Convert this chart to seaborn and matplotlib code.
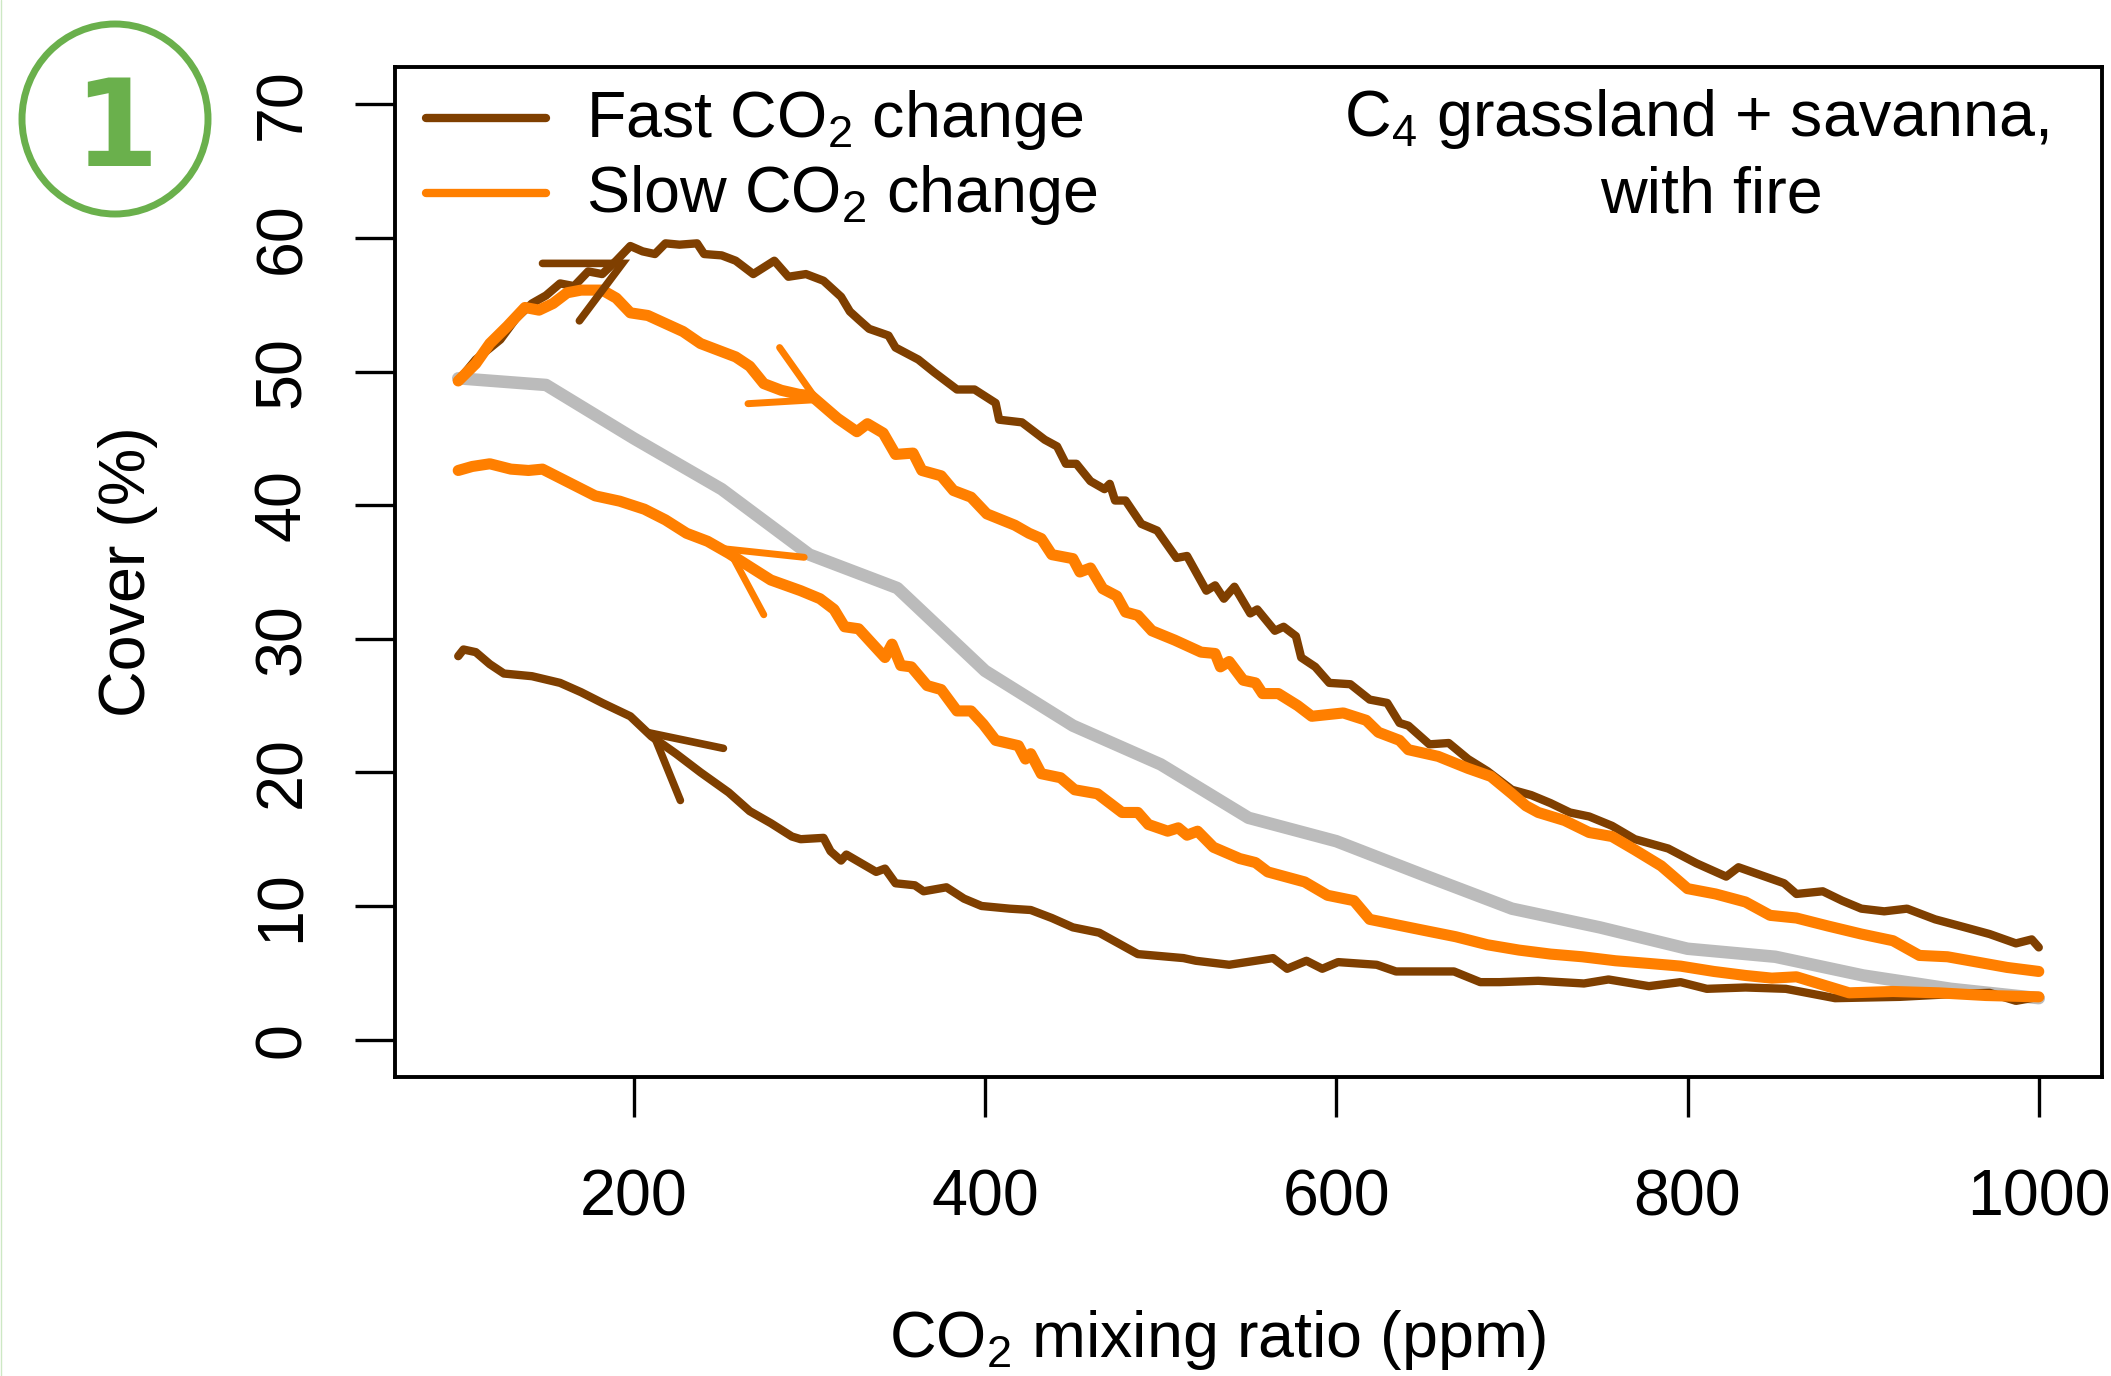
import matplotlib
matplotlib.use("Agg")
import seaborn as sns
from matplotlib import pyplot as plt
from matplotlib.patches import Ellipse

FAST_UP_X = [100, 110, 124, 133, 142, 150, 158, 166, 174, 182, 190, 198, 205, 212, 218, 226, 236, 240, 250, 258, 268, 280, 288, 298, 308, 318, 323, 328, 334, 345, 349, 362, 371, 384, 394, 406, 408, 421, 434, 441, 446, 452, 460, 468, 471, 474, 480, 489, 498, 509, 515, 526, 531, 536, 542, 551, 555, 565, 570, 577, 580, 588, 596, 608, 619, 629, 636, 641, 653, 664, 675, 686, 700, 711, 722, 733, 744, 757, 770, 789, 805, 822, 829, 842, 855, 862, 877, 888, 899, 912, 925, 941, 958, 972, 987, 996, 1000]
FAST_UP_Y = [49.3, 50.9, 52.4, 54.0, 55.1, 55.7, 56.6, 56.4, 57.5, 57.3, 58.3, 59.4, 59.0, 58.8, 59.6, 59.5, 59.6, 58.8, 58.7, 58.3, 57.3, 58.3, 57.1, 57.3, 56.8, 55.6, 54.5, 53.9, 53.2, 52.7, 51.8, 50.9, 49.95, 48.66, 48.66, 47.65, 46.4, 46.2, 44.9, 44.4, 43.1, 43.1, 41.8, 41.2, 41.6, 40.35, 40.35, 38.6, 38.1, 36.05, 36.2, 33.6, 34.0, 33.0, 33.9, 31.9, 32.2, 30.6, 30.9, 30.2, 28.6, 27.9, 26.7, 26.6, 25.45, 25.2, 23.7, 23.5, 22.1, 22.2, 21.0, 20.1, 18.7, 18.3, 17.7, 17.0, 16.7, 16.0, 15.0, 14.3, 13.2, 12.2, 12.9, 12.3, 11.7, 10.9, 11.1, 10.4, 9.8, 9.6, 9.8, 9.0, 8.4, 7.9, 7.2, 7.5, 6.9]

SLOW_UP_X = [100, 110, 118, 128, 138, 146, 154, 162, 170, 182, 190, 198, 208, 218, 228, 238, 258, 266, 274, 284, 294, 301, 316, 327, 333, 342, 349, 359, 364, 375, 382, 392, 401, 417, 425, 432, 438, 450, 454, 460, 467, 475, 480, 487, 495, 508, 523, 531, 534, 539, 547, 554, 558, 567, 578, 586, 604, 617, 624, 636, 641, 658, 675, 688, 700, 708, 715, 730, 744, 757, 770, 785, 800, 816, 833, 847, 862, 880, 899, 917, 932, 948, 965, 982, 1000]
SLOW_UP_Y = [49.3, 50.6, 52.1, 53.4, 54.8, 54.6, 55.1, 55.9, 56.1, 56.1, 55.5, 54.4, 54.2, 53.6, 53.0, 52.1, 51.1, 50.4, 49.1, 48.6, 48.3, 48.2, 46.5, 45.5, 46.1, 45.4, 43.8, 43.9, 42.6, 42.2, 41.1, 40.6, 39.35, 38.5, 37.9, 37.5, 36.3, 36.0, 35.0, 35.3, 33.75, 33.2, 32.0, 31.75, 30.6, 29.9, 29.0, 28.9, 27.9, 28.3, 26.9, 26.7, 25.9, 25.9, 25.0, 24.2, 24.45, 23.9, 23.0, 22.4, 21.7, 21.2, 20.3, 19.7, 18.4, 17.5, 17.0, 16.4, 15.5, 15.2, 14.2, 13.0, 11.3, 10.9, 10.3, 9.3, 9.1, 8.5, 7.9, 7.4, 6.3, 6.2, 5.8, 5.4, 5.1]

SLOW_DOWN_X = [100, 108, 118, 130, 140, 148, 163, 178, 192, 206, 218, 230, 242, 254, 266, 278, 295, 306, 314, 320, 328, 336, 343, 347, 352, 358, 367, 375, 384, 392, 399, 406, 419, 423, 426, 432, 443, 451, 464, 478, 487, 493, 504, 510, 515, 521, 530, 545, 554, 561, 582, 595, 610, 619, 634, 649, 668, 686, 704, 722, 740, 759, 778, 796, 815, 833, 848, 862, 877, 892, 917, 943, 970, 1000]
SLOW_DOWN_Y = [42.6, 42.9, 43.1, 42.7, 42.6, 42.7, 41.7, 40.7, 40.3, 39.7, 38.9, 37.9, 37.3, 36.4, 35.4, 34.4, 33.6, 33.0, 32.2, 30.9, 30.75, 29.6, 28.6, 29.6, 28.0, 27.9, 26.5, 26.2, 24.6, 24.6, 23.6, 22.4, 22.0, 21.0, 21.4, 19.9, 19.6, 18.7, 18.4, 17.0, 17.0, 16.1, 15.6, 15.85, 15.3, 15.6, 14.4, 13.55, 13.25, 12.55, 11.8, 10.8, 10.4, 9.0, 8.6, 8.2, 7.7, 7.1, 6.7, 6.4, 6.2, 5.9, 5.7, 5.5, 5.1, 4.8, 4.6, 4.7, 4.1, 3.5, 3.6, 3.5, 3.3, 3.2]

FAST_DOWN_X = [100, 103, 110, 118, 126, 142, 158, 170, 182, 198, 210, 224, 238, 254, 266, 278, 290, 295, 308, 312, 318, 321, 338, 343, 349, 360, 365, 378, 388, 398, 414, 426, 438, 450, 465, 487, 513, 520, 539, 564, 572, 583, 592, 601, 623, 634, 656, 667, 682, 693, 715, 741, 755, 778, 796, 811, 833, 856, 884, 921, 950, 972, 987, 1000]
FAST_DOWN_Y = [28.7, 29.2, 29.0, 28.1, 27.4, 27.2, 26.7, 26.0, 25.2, 24.2, 22.7, 21.4, 20.0, 18.5, 17.1, 16.2, 15.2, 15.0, 15.1, 14.1, 13.4, 13.85, 12.55, 12.8, 11.7, 11.55, 11.1, 11.4, 10.55, 10.0, 9.8, 9.7, 9.1, 8.4, 8.0, 6.4, 6.1, 5.9, 5.6, 6.1, 5.3, 5.9, 5.3, 5.8, 5.6, 5.1, 5.1, 5.1, 4.3, 4.3, 4.4, 4.2, 4.5, 4.0, 4.3, 3.8, 3.9, 3.8, 3.1, 3.2, 3.4, 3.5, 2.9, 3.2]

GRAY_X = [100, 150, 200, 250, 300, 350, 400, 450, 500, 550, 600, 650, 700, 750, 800, 850, 900, 950, 1000]
GRAY_Y = [49.5, 49.0, 45.0, 41.2, 36.3, 33.8, 27.6, 23.5, 20.6, 16.6, 14.85, 12.3, 9.8, 8.4, 6.8, 6.2, 4.8, 3.8, 3.1]

# arrow heads: end of barb, tip, end of barb
ARROW_FAST_UP = ([148, 193.5, 169], [58.1, 58.1, 53.8])
ARROW_SLOW_UP = ([265, 304, 283], [47.6, 47.9, 51.8])
ARROW_SLOW_DOWN = ([297, 254, 274], [36.1, 36.7, 31.8])
ARROW_FAST_DOWN = ([251, 211, 226.5], [21.8, 22.9, 17.9])

X_TICKS = [200, 400, 600, 800, 1000]
Y_TICKS = [0, 10, 20, 30, 40, 50, 60, 70]

BROWN = "#7F3F00"
ORANGE = "#FF7F00"
GRAY = "#BBBBBB"
GREEN = "#6AB04C"
FS = 46.5

sns.set_style("ticks")
plt.rcParams["font.family"] = ["Liberation Sans", "DejaVu Sans"]
plt.rcParams["mathtext.fontset"] = "custom"
plt.rcParams["mathtext.rm"] = "Liberation Sans"
plt.rcParams["mathtext.default"] = "regular"

W, H = 2111, 1376
fig = plt.figure(figsize=(W / 100, H / 100), dpi=100)
ax = fig.add_axes([395 / W, 1 - 1077 / H, (2102 - 395) / W, (1077 - 67) / H])

sns.lineplot(x=GRAY_X, y=GRAY_Y, color=GRAY, lw=9, sort=False, estimator=None, ax=ax)
sns.lineplot(x=FAST_UP_X, y=FAST_UP_Y, color=BROWN, lw=6, sort=False, estimator=None, ax=ax, label="Fast CO$_2$ change")
sns.lineplot(x=FAST_DOWN_X, y=FAST_DOWN_Y, color=BROWN, lw=6, sort=False, estimator=None, ax=ax)
sns.lineplot(x=SLOW_UP_X, y=SLOW_UP_Y, color=ORANGE, lw=8, sort=False, estimator=None, ax=ax, label="Slow CO$_2$ change")
sns.lineplot(x=SLOW_DOWN_X, y=SLOW_DOWN_Y, color=ORANGE, lw=8, sort=False, estimator=None, ax=ax)

for arrow, col, w in [(ARROW_FAST_UP, BROWN, 5.5), (ARROW_FAST_DOWN, BROWN, 5.5), (ARROW_SLOW_UP, ORANGE, 5), (ARROW_SLOW_DOWN, ORANGE, 5)]:
    ax.plot(arrow[0], arrow[1], color=col, lw=w, solid_capstyle="round", solid_joinstyle="miter")

ax.set_xlim(64, 1036)
ax.set_ylim(-2.8, 72.8)
ax.set_xticks(X_TICKS)
ax.set_yticks(Y_TICKS)
ax.tick_params(axis="x", labelsize=FS, length=29, width=2.4, pad=37, color="black", labelcolor="black")
ax.tick_params(axis="y", labelsize=FS, length=29, width=2.4, pad=30, color="black", labelcolor="black")
plt.setp(ax.get_yticklabels(), rotation=90, va="center")
for s in ax.spines.values():
    s.set_linewidth(2.8)
    s.set_color("black")

ax.set_xlabel("CO$_2$ mixing ratio (ppm)", fontsize=FS, color="black")
ax.xaxis.set_label_coords((1218 - 395) / 1707, -0.26)
ax.xaxis.label.set_va("center")
ax.set_ylabel("Cover (%)", fontsize=FS, color="black")
ax.yaxis.set_label_coords((128 - 395) / 1707, 0.5)
ax.yaxis.label.set_va("center")

leg = ax.legend(loc="upper left", bbox_to_anchor=(0.0145, 0.986), frameon=False, fontsize=FS, handlelength=1.86,
                handletextpad=0.62, labelspacing=0.17, borderaxespad=0, borderpad=0.1, labelcolor="black")
for h in leg.get_lines():
    h.set_linewidth(6)
    h.set_solid_capstyle("round")
    h.set_ydata([y - 3 for y in h.get_ydata()])

ax.text(805, 67.6, "C$_4$ grassland + savanna,", fontsize=FS, ha="center", va="baseline", color="black")
ax.text(813.7, 61.9, "with fire", fontsize=FS, ha="center", va="baseline", color="black")

# badge in the top left corner, placed in pixels
badge = Ellipse((115, H - 119), 186, 190, fill=False, edgecolor=GREEN, lw=5, transform=None)
fig.add_artist(badge)
fig.text(116 / W, 1 - 132 / H, "1", fontsize=88, fontweight="bold", family="DejaVu Sans", color=GREEN, ha="center", va="center")
fig.add_artist(plt.Line2D([0.5 / W, 0.5 / W], [0, 1], color="#CDE8C4", lw=1, transform=fig.transFigure))

fig.savefig("out.png", dpi=100)
